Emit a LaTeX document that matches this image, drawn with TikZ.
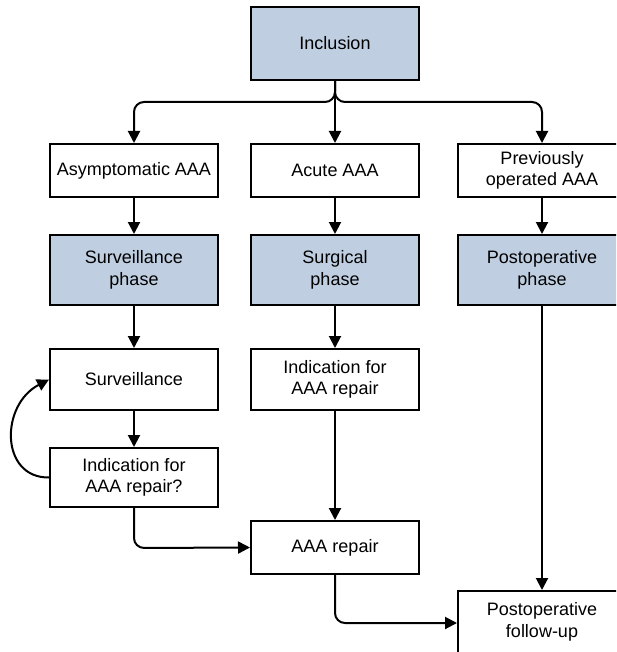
\documentclass[tikz,border=0pt]{standalone}
\usepackage{fontspec}
\setmainfont{Liberation Sans}
\usetikzlibrary{arrows.meta}
\definecolor{phasefill}{RGB}{191,207,225}
\begin{document}
\begin{tikzpicture}[x=1pt,y=-1pt,
  box/.style={draw=black, line width=2pt, fill=white, minimum width=168pt, inner sep=0pt,
    align=center, font=\fontsize{18}{21.5}\selectfont},
  phase/.style={box, fill=phasefill},
  arr/.style={line width=2pt, -{Triangle[length=12pt,width=12pt]}},
  ]
\useasboundingbox (0,0) rectangle (616,652);
\clip (0,0) rectangle (616,652);

\node[phase, minimum height=73pt] (incl) at (335,43.5) {Inclusion};

\node[box, minimum height=53pt] (asym) at (134,170.5) {Asymptomatic AAA};
\node[box, minimum height=53pt] (acute) at (335,170.5) {Acute AAA};
\node[box, minimum height=53pt] (prev) at (542,170.5) {Previously\\operated AAA};

\node[phase, minimum height=70pt] (survph) at (134,270) {Surveillance\\phase};
\node[phase, minimum height=70pt] (surgph) at (335,270) {Surgical\\phase};
\node[phase, minimum height=70pt] (postph) at (542,270) {Postoperative\\phase};

\node[box, minimum height=61pt] (surv) at (134,379.5) {Surveillance};
\node[box, minimum height=61pt] (indrep) at (335,379.5) {Indication for\\AAA repair};

\node[box, minimum height=59pt] (indq) at (134,477.5) {Indication for\\AAA repair?};

\node[box, minimum height=53pt] (repair) at (335,547.5) {AAA repair};

\node[box, minimum height=62pt] (follow) at (542,622) {Postoperative\\follow-up};

\coordinate (splitL) at (134,102);
\coordinate (splitR) at (542,102);
\coordinate (turnA) at (134,548);
\coordinate (turnB) at (335,623);

\draw[arr, rounded corners=10pt] (incl.south) |- (splitL) -- (asym.north);
\draw[arr, rounded corners=10pt] (incl.south) |- (splitR) -- (prev.north);
\draw[arr] (incl.south) -- (acute.north);

\draw[arr] (asym) -- (survph);
\draw[arr] (survph) -- (surv);
\draw[arr] (surv) -- (indq);

\draw[arr] (acute) -- (surgph);
\draw[arr] (surgph) -- (indrep);
\draw[arr] (indrep) -- (repair);

\draw[arr] (prev) -- (postph);
\draw[arr] (postph) -- (follow);

\draw[arr] (indq.west) .. controls (0,478) and (0,405) .. (surv.west);

\draw[arr, rounded corners=10pt] (indq.south) -- (turnA) -- (repair.west);
\draw[arr, rounded corners=10pt] (repair.south) -- (turnB) -- (follow.west |- turnB);
\end{tikzpicture}
\end{document}
